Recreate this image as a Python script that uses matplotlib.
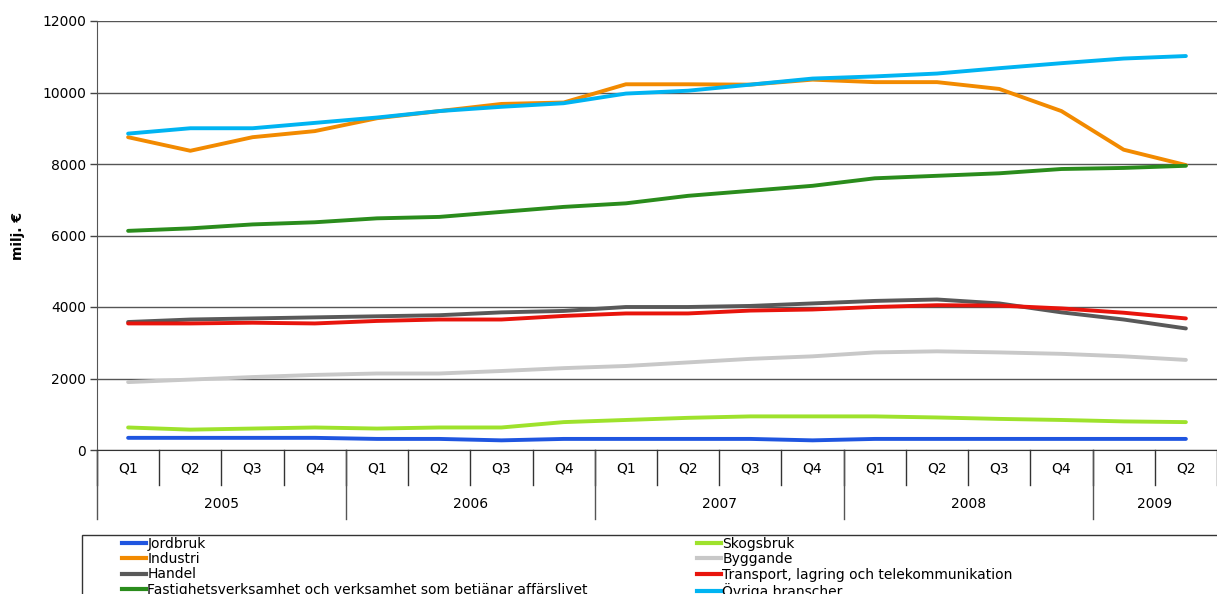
import matplotlib
matplotlib.use("Agg")
import matplotlib.pyplot as plt
from matplotlib.lines import Line2D
from matplotlib.patches import Rectangle
import matplotlib.transforms as mtransforms

quarters = ["Q1", "Q2", "Q3", "Q4"] * 4 + ["Q1", "Q2"]
years = ["2005", "2006", "2007", "2008", "2009"]
year_counts = [4, 4, 4, 4, 2]

jordbruk = [340, 340, 340, 340, 310, 310, 270, 310, 310, 310, 310, 270, 310, 310, 310, 310, 310, 310]
skogsbruk = [630, 570, 600, 630, 600, 630, 630, 780, 840, 900, 940, 940, 940, 910, 870, 840, 800, 780]
industri = [8750, 8370, 8750, 8920, 9280, 9480, 9680, 9720, 10230, 10230, 10220, 10360, 10290, 10290, 10100, 9480, 8400, 7970]
byggande = [1900, 1970, 2040, 2100, 2140, 2140, 2210, 2290, 2350, 2450, 2550, 2620, 2730, 2760, 2730, 2690, 2620, 2520]
handel = [3580, 3650, 3680, 3710, 3740, 3770, 3850, 3890, 4000, 4000, 4030, 4100, 4170, 4210, 4100, 3850, 3650, 3400]
transport = [3540, 3540, 3560, 3540, 3610, 3650, 3650, 3750, 3820, 3820, 3900, 3930, 4000, 4050, 4040, 3960, 3840, 3680]
fastighet = [6130, 6200, 6310, 6370, 6480, 6520, 6660, 6800, 6900, 7110, 7250, 7390, 7600, 7670, 7740, 7860, 7890, 7950]
ovriga = [8850, 9000, 9000, 9150, 9300, 9480, 9600, 9700, 9970, 10050, 10220, 10390, 10450, 10530, 10680, 10820, 10950, 11020]

series = [
    ("Jordbruk", jordbruk, "#1f55e0"),
    ("Skogsbruk", skogsbruk, "#9ee22c"),
    ("Industri", industri, "#f28a00"),
    ("Byggande", byggande, "#c8c8c8"),
    ("Handel", handel, "#595959"),
    ("Transport, lagring och telekommunikation", transport, "#e8140c"),
    ("Fastighetsverksamhet och verksamhet som betjänar affärslivet", fastighet, "#2a8c1c"),
    ("Övriga branscher", ovriga, "#00b4f2"),
]

W, H = 1217, 594
fig = plt.figure(figsize=(W / 100, H / 100), dpi=100)
ax = fig.add_axes([97 / W, 1 - 450 / H, 1 - 97 / W, (450 - 21) / H])

x = list(range(len(quarters)))
handles = {}
for name, vals, col in series:
    ln, = ax.plot(x, vals, color=col, lw=2.8, solid_capstyle="round", zorder=3)
    handles[name] = ln

ax.set_xlim(-0.5, len(quarters) - 0.5)
ax.set_ylim(0, 12000)
ax.set_yticks(range(0, 12001, 2000))
ax.tick_params(axis="y", labelsize=10, length=5, width=1, color="#444444", pad=3)
ax.tick_params(axis="x", bottom=False, labelbottom=False)
ax.grid(axis="y", color="#555555", lw=1, zorder=1)
for s in ["top", "right"]:
    ax.spines[s].set_visible(False)
ax.spines["left"].set_color("#555555")
ax.spines["bottom"].set_color("#333333")
ax.set_ylabel("milj. €", fontsize=10, fontweight="bold", labelpad=12)

# multi-level category axis
trans = mtransforms.blended_transform_factory(ax.transData, fig.transFigure)
y0 = 1 - 450 / H
yq = 1 - 485 / H
yy = 1 - 519 / H
for i in range(len(quarters) + 1):
    xb = i - 0.5
    ax.add_line(Line2D([xb, xb], [y0, yq], transform=trans, color="#333333", lw=1, clip_on=False))
for i, q in enumerate(quarters):
    ax.text(i, 1 - 469 / H, q, transform=trans, ha="center", va="center", fontsize=10)
start = 0
ax.add_line(Line2D([-0.5, -0.5], [y0, yy], transform=trans, color="#555555", lw=1, clip_on=False))
for yr, n in zip(years, year_counts):
    end = start + n
    if end < len(quarters):
        ax.add_line(Line2D([end - 0.5, end - 0.5], [y0, yy], transform=trans, color="#555555", lw=1, clip_on=False))
    ax.text((start + end - 1) / 2, 1 - 504 / H, yr, transform=trans, ha="center", va="center", fontsize=10)
    start = end

# legend box
fig.patches.append(Rectangle((82 / W, -0.05), 1.0, (1 - 535 / H) + 0.05, transform=fig.transFigure,
                             fill=False, edgecolor="#333333", lw=1))

col1 = ["Jordbruk", "Industri", "Handel", "Fastighetsverksamhet och verksamhet som betjänar affärslivet"]
col2 = ["Skogsbruk", "Byggande", "Transport, lagring och telekommunikation", "Övriga branscher"]
for names, xpos in [(col1, 122), (col2, 697)]:
    hs = [Line2D([], [], color=handles[n].get_color(), lw=3) for n in names]
    fig.legend(hs, names, loc="upper left", bbox_to_anchor=(xpos / W, 1 - 537 / H),
               frameon=False, handlelength=1.7, handletextpad=0.12,
               labelspacing=0.09, borderpad=0, borderaxespad=0,
               prop={"family": "DejaVu Sans", "size": 10.0})

fig.savefig("out.png", dpi=100)
